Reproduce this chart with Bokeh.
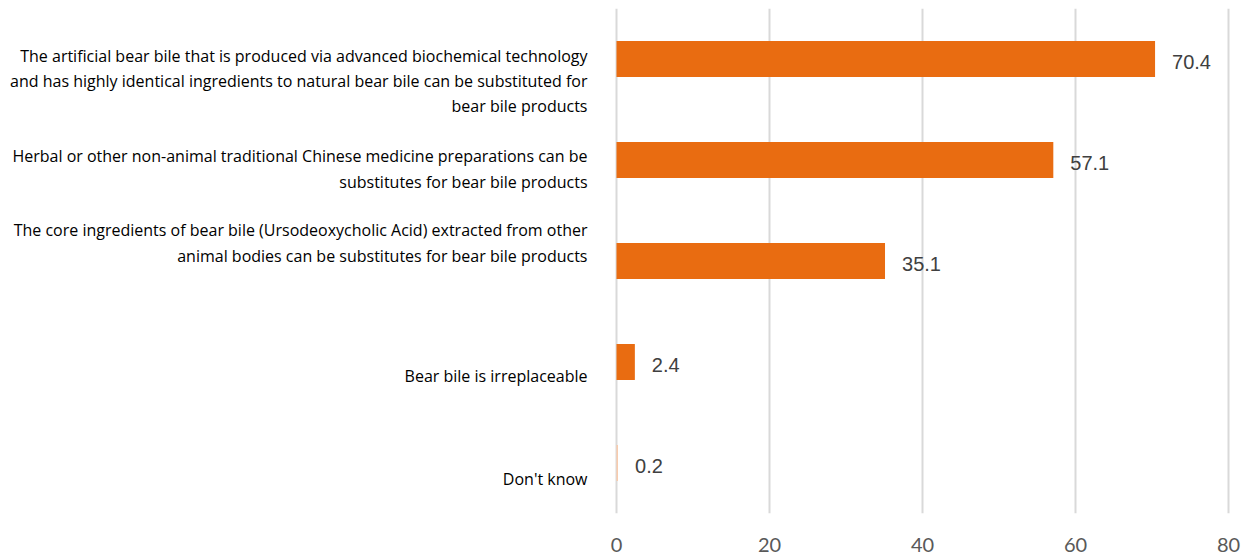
from bokeh.plotting import figure
from bokeh.models import ColumnDataSource, FactorRange, FixedTicker, Range1d, Text
from bokeh.embed import file_html
from bokeh.resources import INLINE
from bokeh.core.properties import value

categories = [
    "The artificial bear bile that is produced via advanced biochemical technology\nand has highly identical ingredients to natural bear bile can be substituted for\nbear bile products",
    "Herbal or other non-animal traditional Chinese medicine preparations can be\nsubstitutes for bear bile products",
    "The core ingredients of bear bile (Ursodeoxycholic Acid) extracted from other\nanimal bodies can be substitutes for bear bile products",
    "Bear bile is irreplaceable",
    "Don't know",
]
values = [70.4, 57.1, 35.1, 2.4, 0.2]
value_labels = ["70.4", "57.1", "35.1", "2.4", "0.2"]
x_ticks = [0, 20, 40, 60, 80]

# styles
bar_colors = ["#E96C11", "#E96C11", "#E96C11", "#E96C11", "#F8CBAD"]
label_y_offsets = [22, 9, -18, 14, 16]
keys = ["c%d" % i for i in range(len(categories))]

src = ColumnDataSource(dict(key=keys, cat=categories, val=values, vlab=value_labels,
                            color=bar_colors, loff=label_y_offsets))

px_per_unit = 7.65
W, H = 1242, 559
zero_px = 616
x0 = -zero_px / px_per_unit
x1 = x0 + W / px_per_unit

p = figure(width=W, height=H, output_backend="svg", toolbar_location=None,
           y_range=FactorRange(factors=list(reversed(keys)), range_padding=0),
           x_range=Range1d(x0, x1),
           min_border_left=0, min_border_right=0, min_border_top=8, min_border_bottom=46)

p.hbar(y="key", right="val", left=0, height=0.356, color="color", line_color=None, source=src)

vt = Text(x="val", y="key", text="vlab", x_offset=17, y_offset=3,
          text_font=value("Liberation Sans"), text_font_size="20px",
          text_color="#404040", text_baseline="middle", text_align="left")
p.add_glyph(src, vt)

lt = Text(x=0, y="key", text="cat", x_offset=-29, y_offset="loff",
          text_font=value("Open Sans"), text_font_size="16px", text_color="#000000",
          text_baseline="middle", text_align="right", text_line_height=1.15)
p.add_glyph(src, lt)

p.yaxis.visible = False
p.ygrid.grid_line_color = None
p.xgrid.grid_line_color = "#D9D9D9"
p.xgrid.grid_line_width = 2
p.outline_line_color = None

p.xaxis.ticker = FixedTicker(ticks=x_ticks)
p.xaxis.axis_line_color = None
p.xaxis.major_tick_line_color = None
p.xaxis.minor_tick_line_color = None
p.xaxis.major_label_standoff = 18
p.xaxis.major_label_text_font = "Lato"
p.xaxis.major_label_text_font_size = "20px"
p.xaxis.major_label_text_color = "#595959"

open("out.html", "w").write(file_html(p, INLINE))
